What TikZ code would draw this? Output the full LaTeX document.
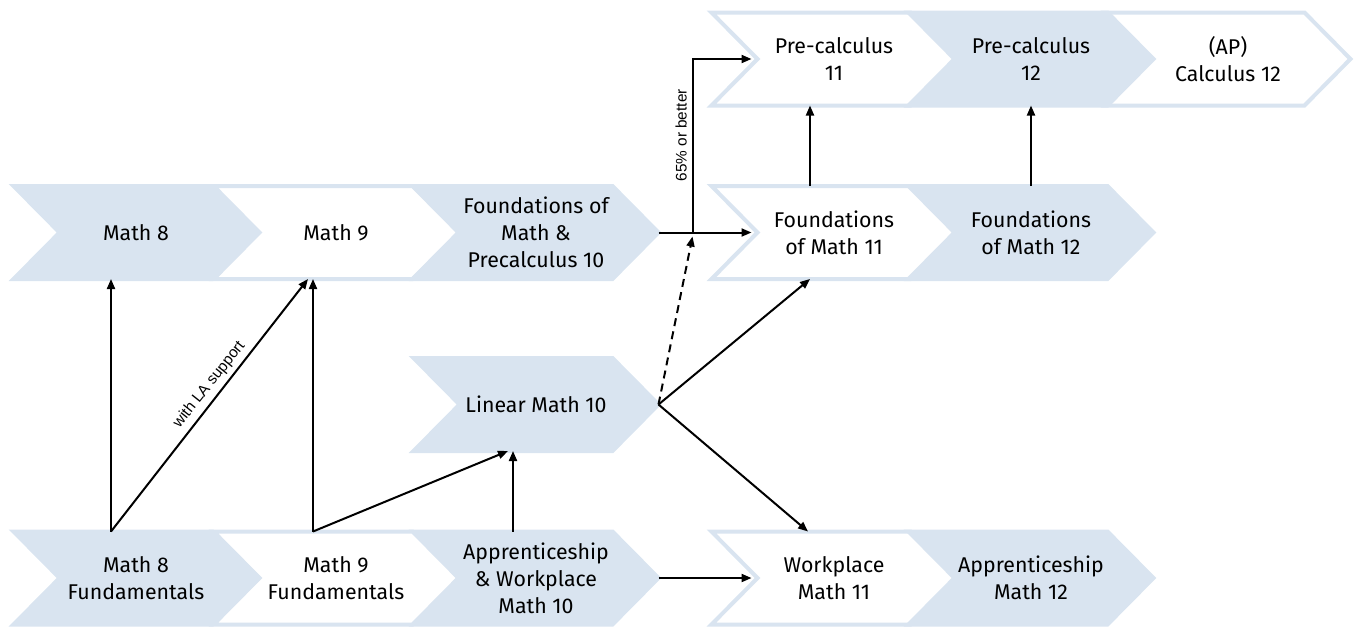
\documentclass[tikz,border=0pt]{standalone}
\usepackage{fontspec}
\setmainfont{Fira Sans}
\newfontfamily\notefont{Liberation Sans}
\usetikzlibrary{arrows.meta,calc,backgrounds}

\definecolor{chevblue}{RGB}{217,228,240}

\tikzset{every picture/.style={line width=0.75pt}}
\tikzset{
  course/.style={minimum width=183pt, minimum height=69pt, inner sep=0pt, align=center,
    font=\fontsize{16}{20.25}\selectfont},
  chevedge/.style={draw=chevblue, line width=3pt},
  arr/.style={line width=1.5pt, -{Triangle[length=7.5pt,width=6pt]}},
  note/.style={font=\notefont\fontsize{11.5}{13}\selectfont, inner sep=3.5pt, anchor=south}
}

\begin{document}
\begin{tikzpicture}[x=0.75pt,y=0.75pt,yscale=-1,xscale=1]
	\useasboundingbox (0,0) rectangle (1354,626);

	% Text Node
	\node[course] (pc11) at (834,59) {Pre-calculus\\11};
	% Text Node
	\node[course] (pc12) at (1031,59) {Pre-calculus\\12};
	% Text Node
	\node[course] (apc12) at (1228,59) {(AP)\\Calculus 12};
	% Text Node
	\node[course] (m8) at (136,232.5) {Math 8};
	% Text Node
	\node[course] (m9) at (336,232.5) {Math 9};
	% Text Node
	\node[course] (fmp10) at (536,232.5) {Foundations of\\Math \&\\Precalculus 10};
	% Text Node
	\node[course] (fm11) at (834,232.5) {Foundations\\of Math 11};
	% Text Node
	\node[course] (fm12) at (1031,232.5) {Foundations\\of Math 12};
	% Text Node
	\node[course] (lin10) at (536,404.5) {Linear Math 10};
	% Text Node
	\node[course] (m8f) at (136,578) {Math 8\\Fundamentals};
	% Text Node
	\node[course] (m9f) at (336,578) {Math 9\\Fundamentals};
	% Text Node
	\node[course] (awm10) at (536,578) {Apprenticeship\\\& Workplace\\Math 10};
	% Text Node
	\node[course] (wm11) at (834,578) {Workplace\\Math 11};
	% Text Node
	\node[course] (am12) at (1031,578) {Apprenticeship\\Math 12};

	%Shape: Chevrons (white ones first, filled ones on top)
	\begin{scope}[on background layer]
	\foreach \c/\f in {pc11/white, apc12/white, m9/white, fm11/white, m9f/white, wm11/white,
	                   pc12/chevblue, m8/chevblue, fmp10/chevblue, fm12/chevblue, lin10/chevblue,
	                   m8f/chevblue, awm10/chevblue, am12/chevblue}{
		\draw[chevedge, fill=\f] (\c.north west) -- ($(\c.north east)+(-46,0)$) -- (\c.east)
			-- ($(\c.south east)+(-46,0)$) -- (\c.south west) -- ($(\c.west)+(46,0)$) -- cycle;
	}
	\end{scope}

	%Straight Lines
	\draw[arr] ($(m8f.north)+(-25,0)$) -- ($(m8.south)+(-25,0)$);
	\draw[arr] ($(m8f.north)+(-25,0)$) -- node[note, pos=0.55, rotate=51.5] {with LA support} ($(m9.south)+(-28,0)$);
	\draw[arr] ($(m9f.north)+(-23,0)$) -- ($(m9.south)+(-23,0)$);
	\draw[arr] ($(m9f.north)+(-23,0)$) -- ($(lin10.south)+(-28,0)$);
	\draw[arr] ($(awm10.north)+(-23,0)$) -- ($(lin10.south)+(-23,0)$);
	\draw[arr] (awm10.east) -- ($(wm11.west)+(40,0)$);
	\draw[arr] (fmp10.east) -- ($(fm11.west)+(40,0)$);
	\draw[arr] ($(fmp10.east)+(34,0)$) |- node[note, pos=0.28, rotate=90] {65\% or better} ($(pc11.west)+(40,0)$);
	\draw[arr, dash pattern={on 6pt off 4pt}] (lin10.east) -- ($(fmp10.east)+(34,4)$);
	\draw[arr] (lin10.east) -- ($(fm11.south)+(-24,0)$);
	\draw[arr] (lin10.east) -- ($(wm11.north)+(-26,0)$);
	\draw[arr] ($(fm11.north)+(-24,0)$) -- ($(pc11.south)+(-24,0)$);
	\draw[arr] (fm12.north) -- (pc12.south);

\end{tikzpicture}
\end{document}
